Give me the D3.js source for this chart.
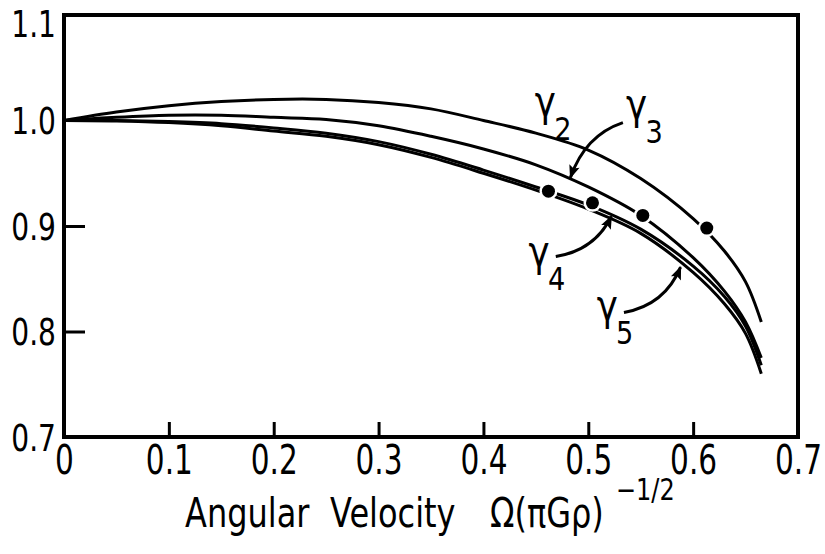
<!DOCTYPE html>
<html>
<head>
<meta charset="utf-8">
<script src="https://cdn.jsdelivr.net/npm/d3@7/dist/d3.min.js"></script>
<style>
  html, body { margin: 0; padding: 0; background: #fff; }
  svg { display: block; }
  text { font-family: "DejaVu Sans", sans-serif; fill: #000; }
</style>
</head>
<body>
<svg id="chart" width="825" height="554"></svg>
<script>
// Angular velocity grid (units of (pi G rho)^1/2)
const omega = [0, 0.05, 0.1, 0.15, 0.2, 0.25, 0.3, 0.35, 0.4, 0.45, 0.5, 0.55, 0.6, 0.63, 0.65, 0.665];

// Ratios for each sequence along the grid
const gamma2 = [1.000, 1.008, 1.014, 1.018, 1.020, 1.020, 1.017, 1.011, 1.000, 0.988, 0.972, 0.945, 0.907, 0.876, 0.847, 0.809];
const gamma3 = [1.000, 1.003, 1.005, 1.005, 1.003, 1.001, 0.995, 0.985, 0.973, 0.958, 0.937, 0.910, 0.870, 0.838, 0.809, 0.775];
const gamma4 = [1.000, 1.000, 0.999, 0.997, 0.993, 0.988, 0.980, 0.968, 0.953, 0.937, 0.920, 0.897, 0.862, 0.833, 0.805, 0.768];
const gamma5 = [1.000, 0.9995, 0.998, 0.995, 0.990, 0.985, 0.977, 0.965, 0.950, 0.934, 0.916, 0.893, 0.856, 0.826, 0.798, 0.760];

// Bifurcation points marked on the sequences
const markOmega = [0.462, 0.504, 0.552, 0.613];
const markValue = [0.933, 0.922, 0.910, 0.898];

// Tick values and labels
const xTicks = [0, 0.1, 0.2, 0.3, 0.4, 0.5, 0.6, 0.7];
const xTickLabels = ["0", "0.1", "0.2", "0.3", "0.4", "0.5", "0.6", "0.7"];
const yTicks = [0.7, 0.8, 0.9, 1.0, 1.1];
const yTickLabels = ["0.7", "0.8", "0.9", "1.0", "1.1"];

// Curve labels: [name, subscript, omega, value]
const curveLabels = [
  ["γ", "2", 0.449, 1.004],
  ["γ", "3", 0.536, 1.001],
  ["γ", "4", 0.443, 0.862],
  ["γ", "5", 0.508, 0.811]
];

// Pointer arrows: tail, control, head in data units
const pointers = [
  [[0.533, 0.998], [0.497, 0.986], [0.483, 0.946]],
  [[0.469, 0.871], [0.506, 0.877], [0.522, 0.909]],
  [[0.534, 0.818], [0.573, 0.825], [0.588, 0.861]]
];

const svg = d3.select("#chart");
const x = d3.scaleLinear().domain([0, 0.7]).range([64, 798]);
const y = d3.scaleLinear().domain([0.7, 1.1]).range([437, 15]);

// Narrow lettering: horizontal squeeze applied to each label
const squeeze = 0.74;

// Frame
svg.append("rect")
  .attr("x", x(0)).attr("y", y(1.1))
  .attr("width", x(0.7) - x(0)).attr("height", y(0.7) - y(1.1))
  .attr("fill", "none").attr("stroke", "#000").attr("stroke-width", 4);

// Bottom axis: inward ticks, labels below
const xAxis = d3.axisBottom(x)
  .tickValues(xTicks)
  .tickSize(-15)
  .tickPadding(9)
  .tickFormat((d, i) => xTickLabels[i]);
const gx = svg.append("g").attr("transform", `translate(0,${y(0.7)})`).call(xAxis);
gx.select(".domain").remove();
gx.selectAll(".tick line").attr("stroke", "#000").attr("stroke-width", 3)
  .attr("display", d => (d === 0 || d === 0.7) ? "none" : null);
gx.selectAll(".tick text").attr("font-size", 40).attr("font-family", null)
  .attr("transform", `scale(${squeeze},1)`);

// Left axis: inward ticks, labels to the left
const yAxis = d3.axisLeft(y)
  .tickValues(yTicks)
  .tickSize(-21)
  .tickPadding(8)
  .tickFormat((d, i) => yTickLabels[i]);
const gy = svg.append("g").attr("transform", `translate(${x(0)},0)`).call(yAxis);
gy.select(".domain").remove();
gy.selectAll(".tick line").attr("stroke", "#000").attr("stroke-width", 3)
  .attr("display", d => (d === 0.8 || d === 0.9) ? null : "none");
gy.selectAll(".tick text").attr("font-size", 38).attr("font-family", null)
  .attr("x", -8 / squeeze)
  .attr("dy", d => d === 1.1 ? "0.56em" : "0.35em")
  .attr("transform", `scale(${squeeze},1)`);

// Curves
const line = d3.line().x(d => x(d[0])).y(d => y(d[1])).curve(d3.curveCatmullRom.alpha(0.5));
[gamma2, gamma3, gamma4, gamma5].forEach(vals => {
  svg.append("path")
    .datum(omega.map((o, i) => [o, vals[i]]))
    .attr("d", line)
    .attr("fill", "none")
    .attr("stroke", "#000")
    .attr("stroke-width", 3);
});

// Bifurcation markers with a white gap around them
svg.selectAll("circle.mark")
  .data(markOmega.map((o, i) => [o, markValue[i]]))
  .join("circle")
  .attr("class", "mark")
  .attr("cx", d => x(d[0])).attr("cy", d => y(d[1]))
  .attr("r", 6.5)
  .attr("fill", "#000")
  .attr("stroke", "#fff")
  .attr("stroke-width", 5)
  .attr("paint-order", "stroke");

// Arrow heads
svg.append("defs").append("marker")
  .attr("id", "head")
  .attr("viewBox", "0 0 10 10")
  .attr("refX", 9).attr("refY", 5)
  .attr("markerWidth", 5.5).attr("markerHeight", 4.5)
  .attr("markerUnits", "strokeWidth")
  .attr("orient", "auto")
  .append("path").attr("d", "M0,1 L10,5 L0,9 L2,5 Z").attr("fill", "#000");

svg.selectAll("path.pointer")
  .data(pointers)
  .join("path")
  .attr("class", "pointer")
  .attr("d", p => `M${x(p[0][0])},${y(p[0][1])} Q${x(p[1][0])},${y(p[1][1])} ${x(p[2][0])},${y(p[2][1])}`)
  .attr("fill", "none")
  .attr("stroke", "#000")
  .attr("stroke-width", 3)
  .attr("marker-end", "url(#head)");

// Curve labels
curveLabels.forEach(([name, sub, o, v]) => {
  const g = svg.append("g").attr("transform", `translate(${x(o)},${y(v)}) scale(0.85,1)`);
  const t = g.append("text").attr("font-size", 42);
  t.append("tspan").text(name);
  t.append("tspan").text(sub).attr("font-size", 32).attr("dx", -2).attr("dy", 24);
});

// Axis title, set piece by piece
function titlePiece(str, px, py, size) {
  svg.append("text")
    .attr("transform", `translate(${px},${py}) scale(0.8,1)`)
    .attr("font-size", size)
    .text(str);
}
titlePiece("Angular", 185, 527, 40);
titlePiece("Velocity", 330, 527, 40);
titlePiece("Ω(πGρ)", 490, 527, 40);
titlePiece("−1/2", 616, 500, 30);
</script>
</body>
</html>
